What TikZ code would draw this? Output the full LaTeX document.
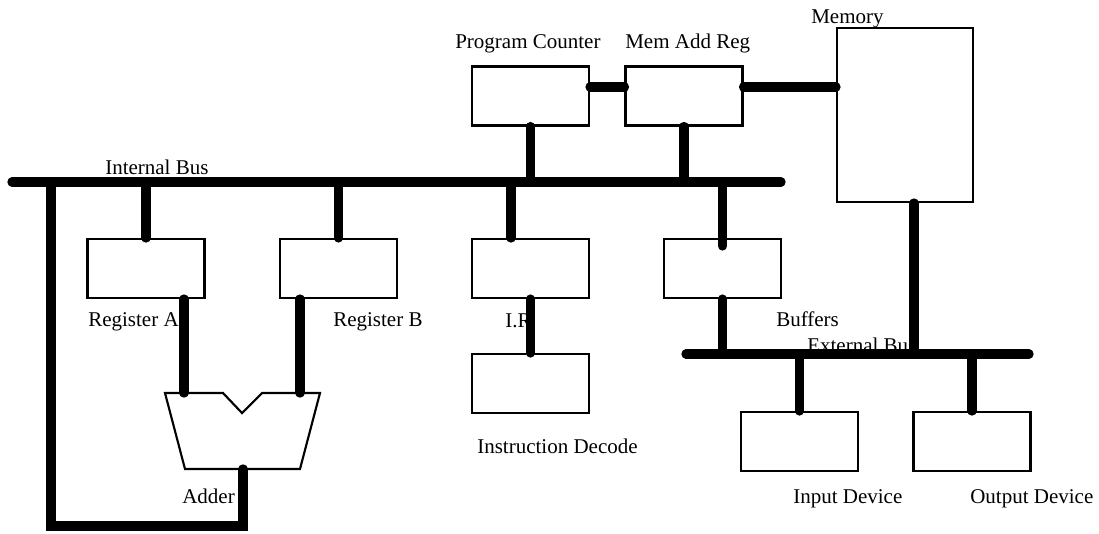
\documentclass[tikz,border=0pt]{standalone}
\usepackage{fontspec}
\setmainfont{Liberation Serif}
\begin{document}
\begin{tikzpicture}[x=0.75pt,y=-0.75pt,
  box/.style={draw, line width=1.6pt, minimum width=87.75pt, minimum height=44.25pt, inner sep=0pt},
  lbl/.style={anchor=base west, inner sep=0pt, font=\fontsize{15.75}{18}\selectfont},
  bus/.style={line width=7pt, line cap=round, line join=miter},
  outline/.style={line width=1.6pt, line join=miter}]
\useasboundingbox (0,0) rectangle (1099,533);
% boxes
\node[box] (rA) at (146,268.5) {};
\node[box] (rB) at (338.5,268.5) {};
\node[box] (PC) at (530.5,96) {};
\node[box] (MAR) at (684,96) {};
\node[box] (IR) at (530.5,268.5) {};
\node[box] (ID) at (530.5,383.5) {};
\node[box] (Buf) at (722.5,268.5) {};
\node[box, minimum width=102pt, minimum height=130.5pt] (mem) at (905,115) {};
\node[box] (inD) at (799.5,441.5) {};
\node[box] (outD) at (972,441.5) {};
% adder
\coordinate (a1) at (165,393);
\coordinate (a2) at (223,393);
\coordinate (a3) at (242,413);
\coordinate (a4) at (262,393);
\coordinate (a5) at (320,393);
\coordinate (a6) at (300,469);
\coordinate (a7) at (185,469);
\draw[outline] (a1)--(a2)--(a3)--(a4)--(a5)--(a6)--(a7)--cycle;
\coordinate (inA) at (184,393);
\coordinate (inB) at (300,393);
\coordinate (aout) at (243,469);
% labels
\node[lbl] (tIB) at (105,174) {Internal Bus};
\node[lbl] (tRA) at (88,326) {Register A};
\node[lbl] (tRB) at (333,326) {Register B};
\node[lbl] (tPC) at (455,48) {Program Counter};
\node[lbl] (tMAR) at (625,48) {Mem Add Reg};
\node[lbl] (tMem) at (811,23) {Memory};
\node[lbl] (tIR) at (505,327) {I.R};
\node[lbl] (tBuf) at (776,326) {Buffers};
\node[lbl] (tEB) at (807,352) {External Bus};
\node[lbl] (tID) at (477,453) {Instruction Decode};
\node[lbl] (tIn) at (793,503) {Input Device};
\node[lbl] (tOut) at (970,503) {Output Device};
\node[lbl] (tAdd) at (182,503) {Adder};
% buses
\coordinate (ibL) at (12,182);
\coordinate (ibR) at (781,182);
\coordinate (ebL) at (686,354);
\coordinate (ebR) at (1029,354);
\coordinate (fbB) at (51,526);
\coordinate (fbT) at (51,182);
\draw[bus] (ibL) -- (ibR);
\draw[bus] (ebL) -- (ebR);
% connectors
\draw[bus] (rA.north) -- (rA.north |- ibL);
\draw[bus] (rB.north) -- (rB.north |- ibL);
\draw[bus] (inA |- rA.south) -- (inA);
\draw[bus] (inB |- rB.south) -- (inB);
\draw[bus] (aout) -- (aout |- fbB) -- (fbB) -- (fbT);
\draw[bus] (PC.south) -- (PC.south |- ibL);
\draw[bus] (MAR.south) -- (MAR.south |- ibL);
\draw[bus] ([xshift=-14.6pt]IR.north) -- ([xshift=-14.6pt]IR.north |- ibL);
\draw[bus] (IR.south) -- (ID.north);
\draw[bus] ([yshift=-6pt]Buf.north) -- (Buf.north |- ibL);
\draw[bus] (Buf.south) -- (Buf.south |- ebL);
\draw[bus] ([xshift=6.75pt]mem.south) -- ([xshift=6.75pt]mem.south |- ebL);
\draw[bus] (inD.north) -- (inD.north |- ebL);
\draw[bus] (outD.north) -- (outD.north |- ebL);
\draw[bus] ([yshift=6.75pt]PC.east) -- ([yshift=6.75pt]MAR.west);
\draw[bus] ([yshift=6.75pt]MAR.east) -- ([yshift=6.75pt]MAR.east -| mem.west);
\end{tikzpicture}
\end{document}
